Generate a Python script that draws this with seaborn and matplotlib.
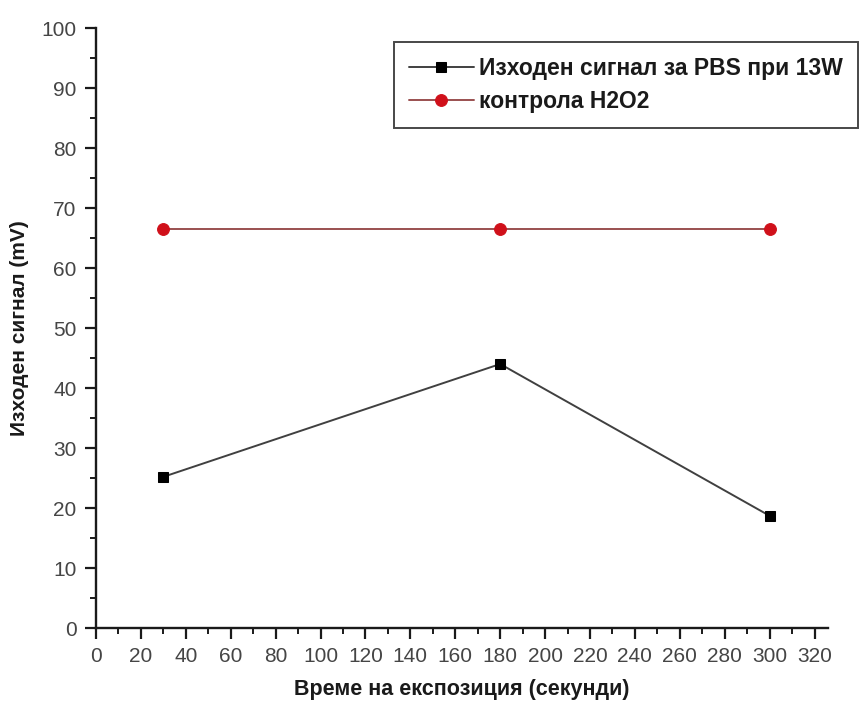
import matplotlib
matplotlib.use("Agg")
import matplotlib.pyplot as plt
import seaborn as sns
import pandas as pd
from matplotlib.ticker import MultipleLocator

time_s = [30, 180, 300]
pbs_13w = [25.2, 44.0, 18.7]
h2o2_control = [66.5, 66.5, 66.5]
label_pbs = "Изходен сигнал за PBS при 13W"
label_h2o2 = "контрола H2O2"

sns.set_theme(style="ticks")
plt.rcParams['font.family'] = ['Liberation Sans', 'DejaVu Sans']

fig = plt.figure(figsize=(8.61, 7.09), dpi=100)
ax = fig.add_axes([0.1115, 0.1142, 0.8502, 0.8463])

df1 = pd.DataFrame({"t": time_s, "v": pbs_13w})
df2 = pd.DataFrame({"t": time_s, "v": h2o2_control})

sns.lineplot(data=df1, x="t", y="v", ax=ax, color="#404040", lw=1.4,
             marker="s", markersize=7, markerfacecolor="black",
             markeredgecolor="black", label=label_pbs)
sns.lineplot(data=df2, x="t", y="v", ax=ax, color="#9a5050", lw=1.4,
             marker="o", markersize=8.5, markerfacecolor="#d0101a",
             markeredgecolor="#d0101a", label=label_h2o2)

ax.set_xlim(0, 326)
ax.set_ylim(0, 100)
ax.xaxis.set_major_locator(MultipleLocator(20))
ax.xaxis.set_minor_locator(MultipleLocator(10))
ax.yaxis.set_major_locator(MultipleLocator(10))
ax.yaxis.set_minor_locator(MultipleLocator(5))

for s in ["top", "right"]:
    ax.spines[s].set_visible(False)
for s in ["left", "bottom"]:
    ax.spines[s].set_linewidth(1.7)
    ax.spines[s].set_color("#1a1a1a")

ax.tick_params(which="major", direction="out", length=8, width=1.6,
               color="#1a1a1a", labelsize=15, labelcolor="#454545", pad=6)
ax.tick_params(which="minor", direction="out", length=4.5, width=1.4,
               color="#1a1a1a")

ax.set_xlabel("Време на експозиция (секунди)", fontsize=15.5, fontweight="bold",
              color="#1a1a1a", labelpad=9)
ax.set_ylabel("Изходен сигнал (mV)", fontsize=15, fontweight="bold",
              color="#1a1a1a", labelpad=9)

leg = ax.legend(loc="upper right", bbox_to_anchor=(1.041, 0.977), frameon=True,
                fancybox=False, edgecolor="#1a1a1a",
                prop={"weight": "bold", "size": 16.5}, handlelength=2.8,
                borderpad=0.65, labelspacing=0.45, handletextpad=0.25,
                borderaxespad=0.0)
leg.get_frame().set_linewidth(1.4)
for t in leg.get_texts():
    t.set_color("#1a1a1a")

fig.savefig("out.png", dpi=100)
